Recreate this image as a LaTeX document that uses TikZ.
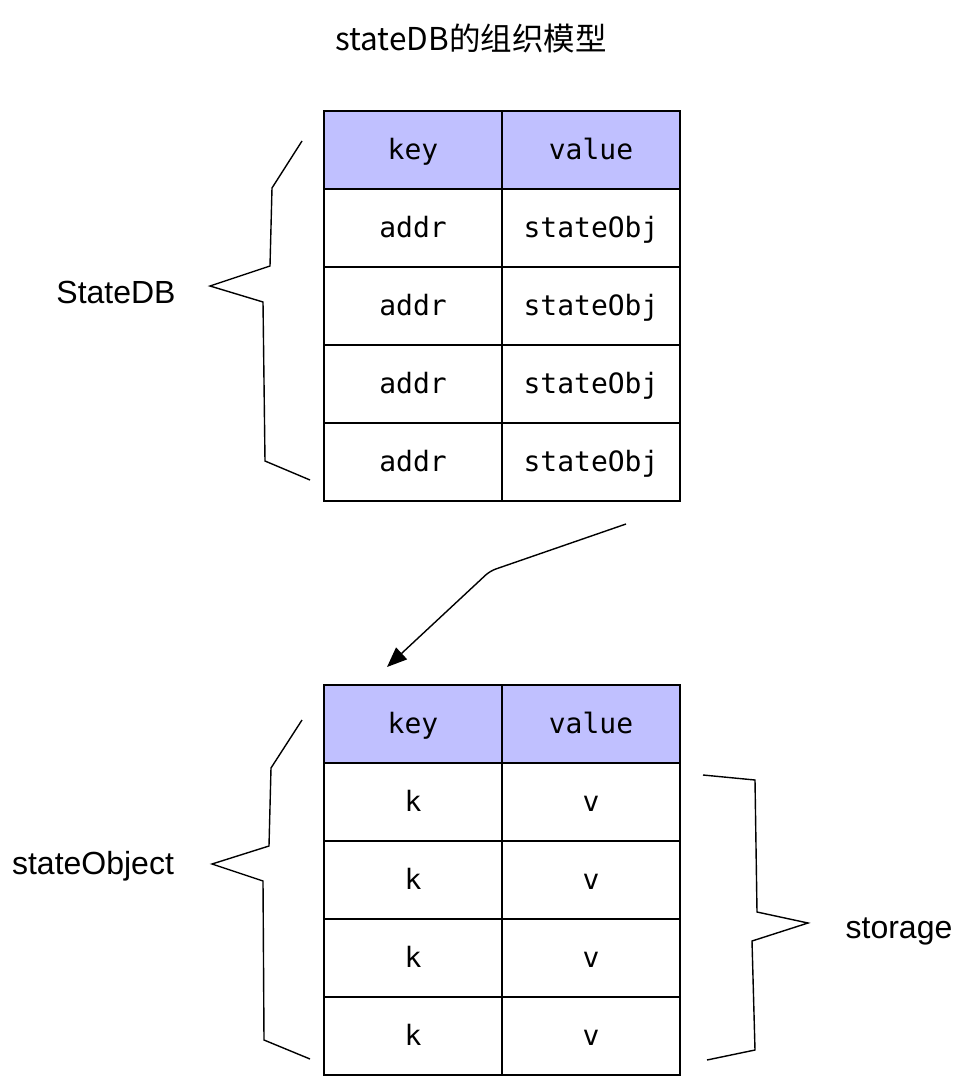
\documentclass[tikz,border=0pt]{standalone}
\usepackage{fontspec}
\setmainfont{Liberation Sans}
\setmonofont{DejaVu Sans Mono}
\newfontfamily\cjk{Noto Sans CJK SC}
\usetikzlibrary{arrows.meta}
\definecolor{headfill}{RGB}{192, 192, 255}

\tikzset{
	cell/.style = {draw, line width=1.6pt, minimum width=178pt, minimum height=78pt, inner sep=0pt,
		text height=22pt, text depth=4pt, font=\ttfamily\fontsize{28}{32}\selectfont},
	headcell/.style = {cell, fill=headfill},
	brace/.style = {line width=1.4pt, line join=miter},
	lbl/.style = {font=\fontsize{32}{38}\selectfont, inner sep=0pt}
}

\begin{document}
\begin{tikzpicture}[x=1pt, y=-1pt]
			\useasboundingbox (0,0) rectangle (964,1076);
			\node[font=\cjk\fontsize{31.5}{38}\selectfont] (title) at (471,38) {stateDB的组织模型};
			% StateDB table
			\node[headcell] (dbkey) at (413,150) {key};
			\node[headcell] (dbval) at (591,150) {value};
			\foreach \i in {1,...,4} {
				\node[cell] (addr\i) at (413,{150+78*\i}) {addr};
				\node[cell] (obj\i) at (591,{150+78*\i}) {stateObj};
			}
			% stateObject table
			\node[headcell] (objkey) at (413,724) {key};
			\node[headcell] (objval) at (591,724) {value};
			\foreach \i in {1,...,4} {
				\node[cell] (k\i) at (413,{724+78*\i}) {k};
				\node[cell] (v\i) at (591,{724+78*\i}) {v};
			}
			% braces
			\draw[brace] (302,141) -- (272,188) -- (270,266) -- (210,286) -- (263,302) -- (265,461) -- (310,480);
			\node[lbl] (statedb) at (116,292) {StateDB};
			\draw[brace] (302,720) -- (271,768) -- (269,846) -- (212,864) -- (263,881) -- (264,1040) -- (310,1059);
			\node[lbl] (stateobject) at (93,866) {stateObject};
			\draw[brace] (703,775) -- (755,780) -- (757,912) -- (808,923) -- (752,941) -- (755,1050) -- (707,1060);
			\node[lbl] (storage) at (899,931) {storage};
			% arrow
			\coordinate (arrowstart) at (626,524);
			\coordinate (arrowend) at (387,667);
			\draw[line width=1.4pt, rounded corners=6pt, -{Triangle[length=20pt, width=16pt]}]
				(arrowstart) -- (490,571) -- (arrowend);
		\end{tikzpicture}
\end{document}
